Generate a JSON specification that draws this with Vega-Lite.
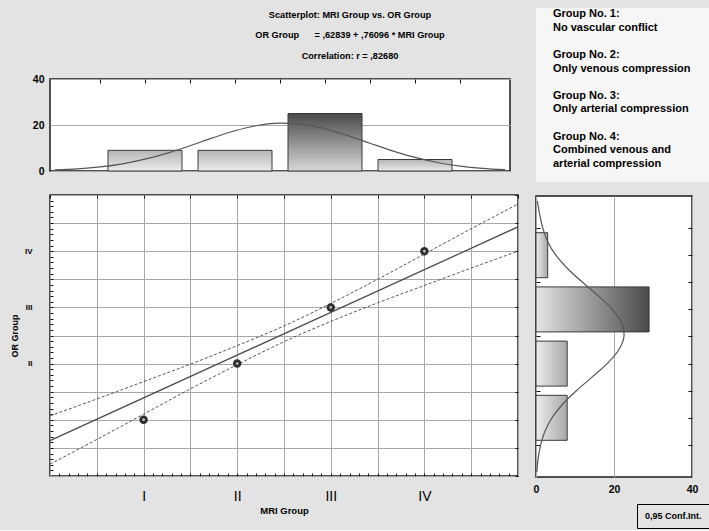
{
  "$schema": "https://vega.github.io/schema/vega-lite/v6.json",
  "background": "#e3e3e3",
  "padding": {"left": 9, "top": 8, "right": 0, "bottom": 0},
  "config": {
    "font": "Liberation Sans",
    "view": {"stroke": null},
    "axis": {"domain": false, "labelFont": "Liberation Sans", "titleFont": "Liberation Sans", "labelColor": "#000", "titleColor": "#000", "tickColor": "#111", "gridColor": "#a8a8a8", "gridOpacity": 1, "gridWidth": 1}
  },
  "datasets": {
    "heading": [
      {"line": 0, "text": "Scatterplot: MRI Group vs. OR Group"},
      {"line": 1, "text": "OR Group\u00a0\u00a0\u00a0\u00a0\u00a0 = ,62839 + ,76096 * MRI Group"},
      {"line": 2, "text": "Correlation: r = ,82680"}
    ],
    "mriCounts": [{"mri": 1, "n": 9}, {"mri": 2, "n": 9}, {"mri": 3, "n": 25}, {"mri": 4, "n": 5}],
    "mriNormal": [
      {"mri": 0, "n": 0.46}, {"mri": 0.25, "n": 0.94}, {"mri": 0.5, "n": 1.78}, {"mri": 0.75, "n": 3.13},
      {"mri": 1, "n": 5.13}, {"mri": 1.25, "n": 7.78}, {"mri": 1.5, "n": 10.98}, {"mri": 1.75, "n": 14.39},
      {"mri": 2, "n": 17.51}, {"mri": 2.25, "n": 19.79}, {"mri": 2.5, "n": 20.78}, {"mri": 2.75, "n": 20.26},
      {"mri": 3, "n": 18.36}, {"mri": 3.25, "n": 15.44}, {"mri": 3.5, "n": 12.07}, {"mri": 3.75, "n": 8.76},
      {"mri": 4, "n": 5.91}, {"mri": 4.25, "n": 3.7}, {"mri": 4.5, "n": 2.15}, {"mri": 4.75, "n": 1.16}, {"mri": 5, "n": 0.58}
    ],
    "orCounts": [{"or": 1, "n": 8}, {"or": 2, "n": 8}, {"or": 3, "n": 29}, {"or": 4, "n": 3}],
    "orNormal": [
      {"or": 0, "n": 0.23}, {"or": 0.25, "n": 0.55}, {"or": 0.5, "n": 1.2}, {"or": 0.75, "n": 2.3},
      {"or": 1, "n": 4.12}, {"or": 1.25, "n": 6.82}, {"or": 1.5, "n": 10.35}, {"or": 1.75, "n": 14.36},
      {"or": 2, "n": 18.24}, {"or": 2.25, "n": 21.2}, {"or": 2.5, "n": 22.56}, {"or": 2.75, "n": 21.97},
      {"or": 3, "n": 19.58}, {"or": 3.25, "n": 15.97}, {"or": 3.5, "n": 11.92}, {"or": 3.75, "n": 8.14},
      {"or": 4, "n": 5.09}, {"or": 4.25, "n": 3.0}, {"or": 4.5, "n": 1.75}, {"or": 4.75, "n": 0.95}, {"or": 5, "n": 0.35}
    ],
    "fit": [{"mri": 0, "or": 0.628}, {"mri": 5, "or": 4.433}],
    "band": [
      {"mri": 0, "or": 1.07, "bound": "upper"}, {"mri": 0.5, "or": 1.37, "bound": "upper"}, {"mri": 1, "or": 1.68, "bound": "upper"},
      {"mri": 1.5, "or": 1.99, "bound": "upper"}, {"mri": 2, "or": 2.32, "bound": "upper"}, {"mri": 2.5, "or": 2.67, "bound": "upper"},
      {"mri": 3, "or": 3.07, "bound": "upper"}, {"mri": 3.5, "or": 3.5, "bound": "upper"}, {"mri": 4, "or": 3.95, "bound": "upper"},
      {"mri": 4.5, "or": 4.4, "bound": "upper"}, {"mri": 5, "or": 4.84, "bound": "upper"},
      {"mri": 0, "or": 0.21, "bound": "lower"}, {"mri": 0.5, "or": 0.65, "bound": "lower"}, {"mri": 1, "or": 1.1, "bound": "lower"},
      {"mri": 1.5, "or": 1.55, "bound": "lower"}, {"mri": 2, "or": 1.98, "bound": "lower"}, {"mri": 2.5, "or": 2.39, "bound": "lower"},
      {"mri": 3, "or": 2.75, "bound": "lower"}, {"mri": 3.5, "or": 3.08, "bound": "lower"}, {"mri": 4, "or": 3.39, "bound": "lower"},
      {"mri": 4.5, "or": 3.7, "bound": "lower"}, {"mri": 5, "or": 4.0, "bound": "lower"}
    ],
    "cases": [{"mri": 1, "or": 1}, {"mri": 2, "or": 2}, {"mri": 3, "or": 3}, {"mri": 4, "or": 4}],
    "notes": [
      {"line": 0, "text": "Group No. 1:"}, {"line": 1, "text": "No vascular conflict"},
      {"line": 3, "text": "Group No. 2:"}, {"line": 4, "text": "Only venous compression"},
      {"line": 6, "text": "Group No. 3:"}, {"line": 7, "text": "Only arterial compression"},
      {"line": 9, "text": "Group No. 4:"}, {"line": 10, "text": "Combined venous and"}, {"line": 11, "text": "arterial compression"}
    ]
  },
  "spacing": 10,
  "resolve": {"legend": {"color": "independent"}},
  "hconcat": [
    {
      "bounds": "flush",
      "spacing": 24,
      "vconcat": [
        {
          "width": 460,
          "height": 47,
          "data": {"name": "heading"},
          "mark": {"type": "text", "align": "center", "baseline": "middle", "fontSize": 9.2, "fontWeight": "bold", "font": "Liberation Sans", "color": "#000", "dx": 70},
          "encoding": {
            "y": {"field": "line", "type": "quantitative", "scale": {"domain": [-0.341, 1.951], "reverse": true, "nice": false, "zero": false}, "axis": null},
            "text": {"field": "text", "type": "nominal"}
          }
        },
        {
          "width": 460,
          "height": 92,
          "view": {"fill": "white", "stroke": "#1a1a1a", "strokeWidth": 1.5},
          "layer": [
            {
              "data": {"name": "mriCounts"},
              "transform": [{"filter": "datum.n < 20"}],
              "mark": {"type": "bar", "width": 74, "stroke": "#3a3a3a", "strokeWidth": 1,
                "fill": {"gradient": "linear", "x1": 0, "y1": 0, "x2": 0, "y2": 1, "stops": [{"offset": 0, "color": "#b4b4b4"}, {"offset": 1, "color": "#ececec"}]}},
              "encoding": {
                "x": {"field": "mri", "type": "quantitative", "scale": {"domain": [0, 5], "nice": false},
                  "axis": {"orient": "top", "values": [0.5, 1, 1.5, 2, 2.5, 3, 3.5, 4, 4.5], "tickSize": -4, "labels": false, "title": null, "grid": false}},
                "y": {"field": "n", "type": "quantitative", "scale": {"domain": [0, 40], "nice": false},
                  "axis": {"values": [0, 20, 40], "grid": true, "ticks": false, "labelPadding": 6, "labelFontSize": 10.5, "labelFontWeight": "bold", "title": null}}
              }
            },
            {
              "data": {"name": "mriCounts"},
              "transform": [{"filter": "datum.n >= 20"}],
              "mark": {"type": "bar", "width": 74, "stroke": "#3a3a3a", "strokeWidth": 1,
                "fill": {"gradient": "linear", "x1": 0, "y1": 0, "x2": 0, "y2": 1, "stops": [{"offset": 0, "color": "#4a4a4a"}, {"offset": 1, "color": "#d8d8d8"}]}},
              "encoding": {
                "x": {"field": "mri", "type": "quantitative"},
                "y": {"field": "n", "type": "quantitative"}
              }
            },
            {
              "data": {"name": "mriNormal"},
              "mark": {"type": "line", "stroke": "#555", "strokeWidth": 1.2, "interpolate": "monotone"},
              "encoding": {
                "x": {"field": "mri", "type": "quantitative"},
                "y": {"field": "n", "type": "quantitative"}
              }
            }
          ]
        },
        {
          "width": 468,
          "height": 281,
          "view": {"fill": "white", "stroke": "#1a1a1a", "strokeWidth": 1.5},
          "resolve": {"axis": {"x": "independent", "y": "independent"}},
          "layer": [
            {
              "data": {"name": "fit"},
              "mark": {"type": "line", "stroke": "#4a4a4a", "strokeWidth": 1.3},
              "encoding": {
                "x": {"field": "mri", "type": "quantitative", "scale": {"domain": [0, 5], "nice": false},
                  "axis": {"orient": "bottom", "values": [0.1,0.2,0.3,0.4,0.5,0.6,0.7,0.8,0.9,1,1.1,1.2,1.3,1.4,1.5,1.6,1.7,1.8,1.9,2,2.1,2.2,2.3,2.4,2.5,2.6,2.7,2.8,2.9,3,3.1,3.2,3.3,3.4,3.5,3.6,3.7,3.8,3.9,4,4.1,4.2,4.3,4.4,4.5,4.6,4.7,4.8,4.9],
                    "tickSize": -3, "grid": false,
                    "labelExpr": "datum.value == 1 ? 'I' : datum.value == 2 ? 'II' : datum.value == 3 ? 'III' : datum.value == 4 ? 'IV' : ''",
                    "labelFontSize": 14, "labelPadding": 16, "labelFlush": false, "labelOverlap": false,
                    "title": "MRI Group", "titleFontSize": 9.5, "titleFontWeight": "bold", "titlePadding": 2}},
                "y": {"field": "or", "type": "quantitative", "scale": {"domain": [0, 5], "nice": false},
                  "axis": {"orient": "left", "values": [0.1,0.2,0.3,0.4,0.5,0.6,0.7,0.8,0.9,1,1.1,1.2,1.3,1.4,1.5,1.6,1.7,1.8,1.9,2,2.1,2.2,2.3,2.4,2.5,2.6,2.7,2.8,2.9,3,3.1,3.2,3.3,3.4,3.5,3.6,3.7,3.8,3.9,4,4.1,4.2,4.3,4.4,4.5,4.6,4.7,4.8,4.9],
                    "tickSize": -3, "grid": false,
                    "labelExpr": "datum.value == 2 ? 'II' : datum.value == 3 ? 'III' : datum.value == 4 ? 'IV' : ''",
                    "labelFontSize": 8, "labelFontWeight": "bold", "labelPadding": 21, "labelFlush": false, "labelOverlap": false,
                    "title": "OR Group", "titleFontSize": 9, "titleFontWeight": "bold", "titlePadding": 5}}
              }
            },
            {
              "data": {"name": "band"},
              "mark": {"type": "line", "stroke": "#555", "strokeWidth": 1, "strokeDash": [3, 2], "interpolate": "monotone"},
              "encoding": {
                "x": {"field": "mri", "type": "quantitative",
                  "axis": {"orient": "top", "values": [0, 0.5, 1, 1.5, 2, 2.5, 3, 3.5, 4, 4.5, 5], "grid": true, "zindex": 0, "tickSize": -3, "labels": false, "title": null}},
                "y": {"field": "or", "type": "quantitative",
                  "axis": {"orient": "right", "values": [0, 0.5, 1, 1.5, 2, 2.5, 3, 3.5, 4, 4.5, 5], "grid": true, "zindex": 0, "tickSize": -3, "labels": false, "title": null}},
                "detail": {"field": "bound", "type": "nominal"}
              }
            },
            {
              "data": {"name": "cases"},
              "mark": {"type": "point", "shape": "circle", "filled": true, "fill": "#bdbdbd", "stroke": "#2e2e2e", "strokeWidth": 2.8, "size": 32, "opacity": 1},
              "encoding": {
                "x": {"field": "mri", "type": "quantitative", "axis": null},
                "y": {"field": "or", "type": "quantitative", "axis": null}
              }
            }
          ]
        }
      ]
    },
    {
      "spacing": 13,
      "resolve": {"legend": {"color": "independent"}},
      "vconcat": [
        {
          "width": 174,
          "height": 174,
          "view": {"fill": "#f6f6f6", "stroke": null},
          "data": {"name": "notes"},
          "mark": {"type": "text", "align": "left", "baseline": "middle", "fontSize": 11, "fontWeight": "bold", "font": "Liberation Sans", "color": "#000", "dx": 17},
          "encoding": {
            "x": {"value": 0},
            "y": {"field": "line", "type": "quantitative", "scale": {"domain": [-0.44, 12.32], "reverse": true, "nice": false, "zero": false}, "axis": null},
            "text": {"field": "text", "type": "nominal"}
          }
        },
        {
          "width": 156,
          "height": 281,
          "view": {"fill": "white", "stroke": "#1a1a1a", "strokeWidth": 1.5},
          "resolve": {"axis": {"y": "independent"}},
          "layer": [
            {
              "data": {"name": "orCounts"},
              "transform": [{"filter": "datum.n < 20"}],
              "mark": {"type": "bar", "orient": "horizontal", "height": 45, "stroke": "#3a3a3a", "strokeWidth": 1,
                "fill": {"gradient": "linear", "x1": 0, "y1": 0, "x2": 1, "y2": 0, "stops": [{"offset": 0, "color": "#ececec"}, {"offset": 1, "color": "#a8a8a8"}]}},
              "encoding": {
                "x": {"field": "n", "type": "quantitative", "scale": {"domain": [0, 40], "nice": false},
                  "axis": {"values": [0, 20, 40], "grid": true, "ticks": false, "labelPadding": 7, "labelFontSize": 10.5, "labelFontWeight": "bold", "title": null, "labelFlush": false}},
                "y": {"field": "or", "type": "quantitative", "scale": {"domain": [0, 5], "nice": false},
                  "axis": {"orient": "left", "values": [0.5, 1, 1.5, 2, 2.5, 3, 3.5, 4, 4.5], "tickSize": -4, "labels": false, "title": null, "grid": false}}
              }
            },
            {
              "data": {"name": "orCounts"},
              "transform": [{"filter": "datum.n >= 20"}],
              "mark": {"type": "bar", "orient": "horizontal", "height": 45, "stroke": "#3a3a3a", "strokeWidth": 1,
                "fill": {"gradient": "linear", "x1": 0, "y1": 0, "x2": 1, "y2": 0, "stops": [{"offset": 0, "color": "#e4e4e4"}, {"offset": 1, "color": "#4a4a4a"}]}},
              "encoding": {
                "x": {"field": "n", "type": "quantitative"},
                "y": {"field": "or", "type": "quantitative", "axis": null}
              }
            },
            {
              "data": {"name": "orNormal"},
              "mark": {"type": "line", "strokeWidth": 1.2, "interpolate": "catmull-rom"},
              "encoding": {
                "x": {"field": "n", "type": "quantitative"},
                "y": {"field": "or", "type": "quantitative",
                  "axis": {"orient": "right", "values": [0.5, 1, 1.5, 2, 2.5, 3, 3.5, 4, 4.5], "tickSize": -4, "labels": false, "title": null, "grid": false}},
                "order": {"field": "or", "type": "quantitative"},
                "color": {"datum": "0,95 Conf.Int.", "type": "nominal", "scale": {"range": ["#555555"]},
                  "legend": {"orient": "none", "legendX": 101, "legendY": 308, "title": null, "symbolSize": 0, "symbolOpacity": 0, "symbolStrokeWidth": 0, "labelOffset": -8, "padding": 7, "strokeColor": "#000", "labelFontSize": 9, "labelFontWeight": "bold", "labelFont": "Liberation Sans", "labelColor": "#000"}}
              }
            }
          ]
        }
      ]
    }
  ]
}
